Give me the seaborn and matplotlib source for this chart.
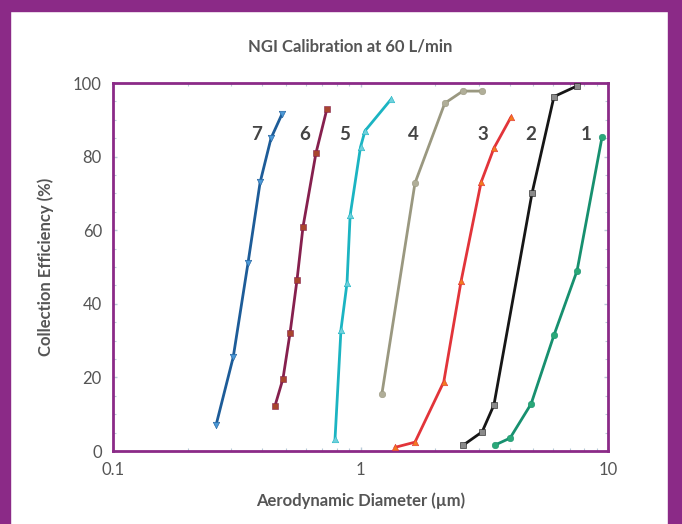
import numpy as np
import pandas as pd
import matplotlib
matplotlib.use("Agg")
import matplotlib.pyplot as plt
import seaborn as sns
from matplotlib.patches import Rectangle
from matplotlib.ticker import LogLocator, FixedLocator, NullFormatter

# ---- data ----
stages = ["7", "6", "5", "4", "3", "2", "1"]
d7 = [0.261, 0.306, 0.351, 0.393, 0.435, 0.482]
e7 = [7.1, 25.5, 51.0, 73.0, 85.0, 91.6]
d6 = [0.451, 0.486, 0.519, 0.554, 0.586, 0.661, 0.732]
e6 = [12.2, 19.6, 32.0, 46.5, 61.0, 81.0, 93.0]
d5 = [0.789, 0.834, 0.882, 0.908, 1.00, 1.043, 1.33]
e5 = [3.3, 33.0, 45.6, 64.0, 82.6, 87.0, 95.6]
d4 = [1.22, 1.66, 2.19, 2.59, 3.10]
e4 = [15.5, 72.8, 94.5, 97.8, 97.8]
d3 = [1.38, 1.66, 2.17, 2.55, 3.07, 3.46, 4.06]
e3 = [1.0, 2.4, 18.8, 46.2, 73.0, 82.3, 90.8]
d2 = [2.59, 3.10, 3.46, 4.93, 6.05, 7.50]
e2 = [1.5, 5.2, 12.5, 70.0, 96.3, 99.2]
d1 = [3.49, 4.02, 4.89, 6.05, 7.50, 9.46]
e1 = [1.6, 3.5, 12.8, 31.5, 49.0, 85.3]
label_x = [0.382, 0.597, 0.866, 1.64, 3.12, 4.89, 8.15]
label_y = [86, 86, 86, 86, 86, 86, 86]

title = "NGI Calibration at 60 L/min"
xlabel = "Aerodynamic Diameter (\u00b5m)"
ylabel = "Collection Efficiency (%)"

diams = [d7, d6, d5, d4, d3, d2, d1]
effs = [e7, e6, e5, e4, e3, e2, e1]
rows = []
for s, dd, ee in zip(stages, diams, effs):
    for i, (a, b) in enumerate(zip(dd, ee)):
        rows.append({"stage": s, "d": a, "e": b, "i": i})
df = pd.DataFrame(rows)

line_colors = {"7": "#1d5c98", "6": "#86204e", "5": "#1bb4c2", "4": "#9a9880",
               "3": "#e2343a", "2": "#161616", "1": "#17906f"}
mark_colors = {"7": "#4b98d6", "6": "#a8452e", "5": "#6fd0dc", "4": "#b0ae98",
               "3": "#f27a1f", "2": "#8a8a8a", "1": "#2aa878"}
markers = {"7": "v", "6": "s", "5": "^", "4": "o", "3": "^", "2": "s", "1": "o"}

sns.set_theme(style="white")
plt.rcParams["font.family"] = ["Lato", "DejaVu Sans"]

purple = "#8b2a87"
fig = plt.figure(figsize=(6.82, 5.24), dpi=100)
fig.patch.set_facecolor("white")
# purple frame
fig.patches.append(Rectangle((0, 0), 10 / 682, 1, transform=fig.transFigure,
                             color=purple, zorder=0))
fig.patches.append(Rectangle((0, 1 - 11 / 524), 1, 11 / 524, transform=fig.transFigure,
                             color=purple, zorder=0))
fig.patches.append(Rectangle((668 / 682, 0), 14 / 682, 1, transform=fig.transFigure,
                             color=purple, zorder=0))

ax = fig.add_axes([113 / 682, 1 - 451 / 524, (608 - 113) / 682, (451 - 83) / 524])

sns.lineplot(data=df, x="d", y="e", hue="stage", units="stage", estimator=None,
             sort=False, palette=line_colors, linewidth=2.0, legend=False, ax=ax)
for s in stages:
    sub = df[df["stage"] == s]
    sns.scatterplot(data=sub, x="d", y="e", marker=markers[s], color=mark_colors[s],
                    s=22, edgecolor=line_colors[s], linewidth=0.4, legend=False,
                    ax=ax, zorder=3)

ax.set_xscale("log")
ax.set_xlim(0.1, 10)
ax.set_ylim(0, 100)
ax.xaxis.set_major_locator(FixedLocator([0.1, 1, 10]))
ax.set_xticklabels(["0.1", "1", "10"])
ax.xaxis.set_minor_locator(LogLocator(base=10, subs=np.arange(2, 10)))
ax.xaxis.set_minor_formatter(NullFormatter())
ax.set_yticks([0, 20, 40, 60, 80, 100])
ax.yaxis.set_minor_locator(FixedLocator(np.arange(5, 100, 5)))

for sp in ax.spines.values():
    sp.set_color(purple)
    sp.set_linewidth(2)
ax.tick_params(which="both", direction="in", color="#b8cbd8", top=True, right=True,
               bottom=True, left=True)
ax.tick_params(which="major", length=3, width=1, labelsize=12, labelcolor="#555555", pad=8)
ax.tick_params(which="minor", length=2, width=0.8)

ax.set_xlabel(xlabel, fontsize=12, fontweight="bold", color="#555555", labelpad=10)
ax.set_ylabel(ylabel, fontsize=12, fontweight="bold", color="#555555", labelpad=14)
fig.text(350 / 682, 1 - 46 / 524, title, ha="center", va="center", fontsize=12,
         fontweight="bold", color="#555555")

for s, lx, ly in zip(stages, label_x, label_y):
    ax.text(lx, ly, s, fontsize=13.5, color="#444444", ha="center", va="center",
            fontweight="bold")

fig.savefig("out.png", dpi=100, facecolor="white")
